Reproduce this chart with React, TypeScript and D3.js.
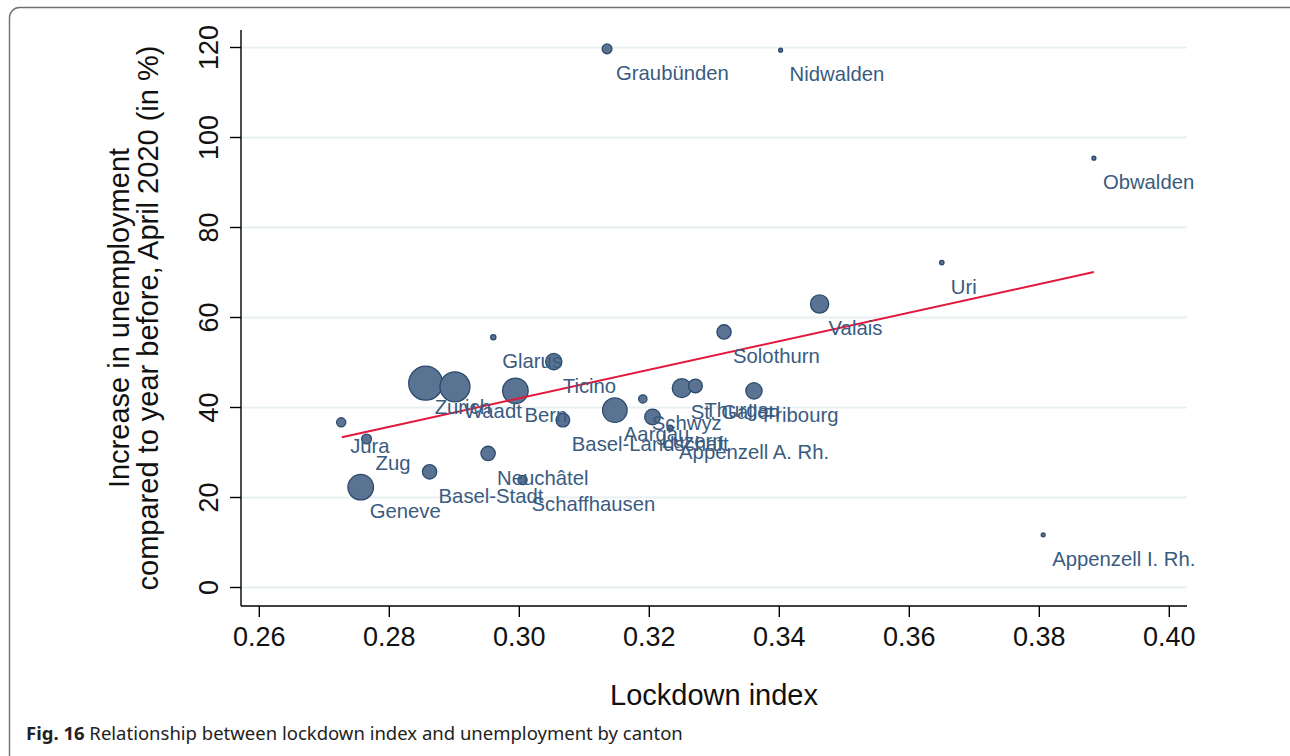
import React from "react";
import * as d3 from "d3";

// ---- data ----
const cantons = [
  "Graubünden", "Nidwalden", "Obwalden", "Uri", "Valais", "Solothurn", "Glarus", "Ticino",
  "Zurich", "Waadt", "Bern", "Jura", "Zug", "Geneve", "Basel-Stadt", "Neuchâtel",
  "Schaffhausen", "Basel-Landschaft", "Aargau", "Schwyz", "Luzern", "Appenzell A. Rh.",
  "St. Gallen", "Thurgau", "Fribourg", "Appenzell I. Rh.",
];
const lockdownIndex = [
  0.3135, 0.3402, 0.3884, 0.3650, 0.3462, 0.3315, 0.2960, 0.3053,
  0.2856, 0.2901, 0.2994, 0.2726, 0.2765, 0.2756, 0.2862, 0.2952,
  0.3005, 0.3067, 0.3147, 0.3190, 0.3205, 0.3232,
  0.3250, 0.3271, 0.3361, 0.3806,
];
const unemploymentIncrease = [
  119.7, 119.4, 95.4, 72.2, 63.0, 56.8, 55.6, 50.2,
  45.4, 44.6, 43.7, 36.7, 33.0, 22.3, 25.7, 29.8,
  23.9, 37.2, 39.4, 41.9, 37.9, 35.4,
  44.3, 44.8, 43.7, 11.7,
];
const weights = [
  25, 4, 4, 5, 86, 53, 7, 69,
  300, 234, 169, 22, 25, 169, 53, 53,
  22, 49, 156, 18, 64, 9,
  94, 49, 69, 4,
];
const fitX = [0.2727, 0.3884];
const fitY = [33.4, 70.1];
const xTicks = [0.26, 0.28, 0.3, 0.32, 0.34, 0.36, 0.38, 0.4];
const yTicks = [0, 20, 40, 60, 80, 100, 120];

const FONT = "'Liberation Sans', Arial, Helvetica, sans-serif";

export default function App() {
  const W = 1290, H = 756;
  const plot = { left: 241, right: 1187, top: 30, bottom: 606 };
  const x = d3.scaleLinear().domain([0.26, 0.4]).range([259.3, 1169.3]);
  const y = d3.scaleLinear().domain([0, 120]).range([587.5, 47.5]);
  const r = d3.scaleSqrt().domain([0, 300]).range([0, 17]);
  const line = d3.line<[number, number]>().x((d) => x(d[0])).y((d) => y(d[1]));
  const fitPts: [number, number][] = fitX.map((v, i) => [v, fitY[i]]);
  const pts = cantons.map((name, i) => ({
    name,
    x: lockdownIndex[i],
    y: unemploymentIncrease[i],
    w: weights[i],
  }));

  const fmtX = d3.format(".2f");
  const yMid = 318;

  return (
    <svg
      width={W}
      height={H}
      style={{ position: "absolute", left: 0, top: 0, background: "#fff" }}
      fontFamily={FONT}
    >
      <rect x={0} y={0} width={W} height={H} fill="#fff" />
      {/* frame */}
      <rect x={9.5} y={7.5} width={W + 40} height={H + 40} rx={10} ry={10}
        fill="none" stroke="#6f6f6f" strokeWidth={1.4} />

      {/* gridlines */}
      {yTicks.map((t) => (
        <line key={"g" + t} x1={plot.left} x2={plot.right} y1={y(t)} y2={y(t)}
          stroke="#e8f0f2" strokeWidth={2.2} />
      ))}

      {/* axes */}
      <line x1={plot.left} x2={plot.left} y1={plot.top} y2={plot.bottom} stroke="#000" strokeWidth={1.4} />
      <line x1={plot.left} x2={plot.right} y1={plot.bottom} y2={plot.bottom} stroke="#000" strokeWidth={1.4} />
      {yTicks.map((t) => (
        <g key={"yt" + t}>
          <line x1={plot.left - 11} x2={plot.left} y1={y(t)} y2={y(t)} stroke="#000" strokeWidth={1.4} />
          <text transform={`translate(218,${y(t)}) rotate(-90)`} textAnchor="middle"
            fontSize={27} fill="#111">{t}</text>
        </g>
      ))}
      {xTicks.map((t) => (
        <g key={"xt" + t}>
          <line x1={x(t)} x2={x(t)} y1={plot.bottom} y2={plot.bottom + 11} stroke="#000" strokeWidth={1.4} />
          <text x={x(t)} y={646} textAnchor="middle" fontSize={27} fill="#111">{fmtX(t)}</text>
        </g>
      ))}

      {/* axis titles */}
      <text x={714} y={705} textAnchor="middle" fontSize={29} fill="#111">Lockdown index</text>
      <text transform={`translate(129,${yMid}) rotate(-90)`} textAnchor="middle" fontSize={29} fill="#111">
        Increase in unemployment
      </text>
      <text transform={`translate(158,${yMid}) rotate(-90)`} textAnchor="middle" fontSize={29} fill="#111">
        compared to year before, April 2020 (in %)
      </text>

      {/* markers */}
      {pts.map((p) => (
        <circle key={"c" + p.name} cx={x(p.x)} cy={y(p.y)} r={Math.max(r(p.w), 1.8)}
          fill="#5a7393" stroke="#2b4a6d" strokeWidth={1.3} />
      ))}

      {/* fit line */}
      <path d={line(fitPts) || ""} fill="none" stroke="#e3173b" strokeWidth={2} />

      {/* labels */}
      {pts.map((p) => (
        <text key={"l" + p.name} x={x(p.x) + 9} y={y(p.y) + 24} dy="0.35em"
          fontSize={20.3} fill="#3a5b80">{p.name}</text>
      ))}

      {/* caption */}
      <text x={26} y={740} fontFamily="'Noto Sans', 'Open Sans', sans-serif" fontSize={18.5} fill="#222">
        <tspan fontWeight="bold">Fig. 16</tspan>
        <tspan> Relationship between lockdown index and unemployment by canton</tspan>
      </text>
    </svg>
  );
}
